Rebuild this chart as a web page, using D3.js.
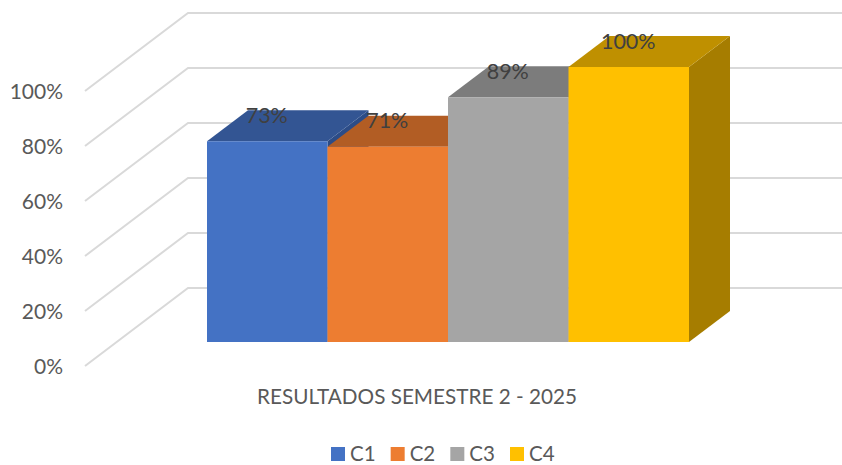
<!DOCTYPE html>
<html><head><meta charset="utf-8">
<script src="https://cdn.jsdelivr.net/npm/d3@7"></script>
<style>html,body{margin:0;padding:0;background:#fff}svg{display:block}text{font-family:Lato,sans-serif}</style>
</head><body><svg id="c" width="842" height="465"></svg>
<script>
const categories = ["C1","C2","C3","C4"];
const values = [73,71,89,100];
const labels = ["73%","71%","89%","100%"];
const ticks = [0,20,40,60,80,100];
const frontColors = ["#4472C4","#ED7D31","#A5A5A5","#FFC000"];
const topColors = ["#335593","#B25D24","#7C7C7C","#BF9000"];
const sideColors = ["#2C4C87","#9A5020","#6B6B6B","#A67D00"];
const axisTitle = "RESULTADOS SEMESTRE 2 - 2025";

const svg = d3.select("#c");
const x = d3.scaleBand().domain(categories).range([207,689]).padding(0);
const y = d3.scaleLinear().domain([0,100]).range([342,67]);
const depth = {dx:41, dy:31};
const wall = {dx:103, dy:78, ox:85, oy:24};

// gridlines: floor/side diagonal + back wall
const grid = svg.append("g").attr("fill","none").attr("stroke","#D9D9D9").attr("stroke-width",2);
ticks.forEach(t=>{
  const sy = y(t)+wall.oy;
  grid.append("path").attr("d",d3.line()([[wall.ox,sy],[wall.ox+wall.dx,sy-wall.dy],[842,sy-wall.dy]]));
});

// axis labels
const ax = svg.append("g").attr("transform",`translate(65,${wall.oy+1})`)
  .call(d3.axisLeft(y).tickValues(ticks).tickSize(0).tickPadding(2).tickFormat(d=>d+"%"));
ax.select(".domain").remove();
ax.selectAll("text").attr("font-size",21).attr("fill","#595959").style("font-family","Lato,sans-serif");

const poly = (pts,fill)=>svg.append("polygon").attr("points",pts.map(p=>p.join(",")).join(" ")).attr("fill",fill);
// sides and tops left-to-right, then fronts
categories.forEach((c,i)=>{
  const x0=x(c), x1=x0+x.bandwidth(), yt=y(values[i]), yb=y(0);
  poly([[x1,yt],[x1+depth.dx,yt-depth.dy],[x1+depth.dx,yb-depth.dy],[x1,yb]],sideColors[i]);
  poly([[x0,yt],[x1,yt],[x1+depth.dx,yt-depth.dy],[x0+depth.dx,yt-depth.dy]],topColors[i]);
});
categories.forEach((c,i)=>{
  svg.append("rect").attr("x",x(c)).attr("y",y(values[i])).attr("width",x.bandwidth()).attr("height",y(0)-y(values[i])).attr("fill",frontColors[i]);
});
// data labels
categories.forEach((c,i)=>{
  svg.append("text").attr("x",x(c)+x.bandwidth()/2-0.5).attr("y",y(values[i])-26).attr("dy","0.35em")
    .attr("text-anchor","middle").attr("font-size",21.5).attr("fill","#404040").text(labels[i]);
});
// category title
svg.append("text").attr("x",417).attr("y",397).attr("dy","0.35em").attr("text-anchor","middle")
  .attr("font-size",20.7).attr("fill","#595959").text(axisTitle);
// legend
const legX = d3.scalePoint().domain(categories).range([331,510]);
categories.forEach((c,i)=>{
  svg.append("rect").attr("x",legX(c)).attr("y",447).attr("width",14).attr("height",14).attr("fill",frontColors[i]);
  svg.append("text").attr("x",legX(c)+19).attr("y",454).attr("dy","0.35em").attr("font-size",20.5).attr("fill","#595959").text(c);
});
</script></body></html>
